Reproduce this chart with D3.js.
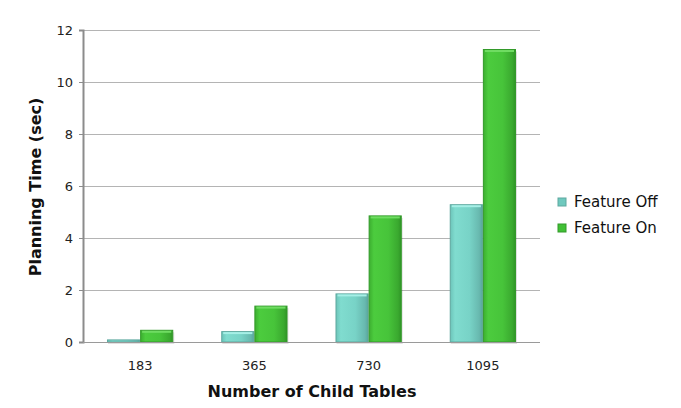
<!DOCTYPE html>
<html><head><meta charset="utf-8">
<script src="https://cdn.jsdelivr.net/npm/d3@7"></script>
<style>body{margin:0;background:#fff;}svg{display:block;font-family:Verdana,"DejaVu Sans",sans-serif;}</style>
</head><body>
<svg id="chart" width="681" height="408"></svg>
<script>
const categories = ["183", "365", "730", "1095"];
const seriesNames = ["Feature Off", "Feature On"];
const featureOff = [0.08, 0.4, 1.85, 5.28];
const featureOn = [0.45, 1.38, 4.85, 11.25];
const yTicks = [0, 2, 4, 6, 8, 10, 12];

const svg = d3.select("#chart");
const m = {left: 83, right: 540, top: 30, bottom: 342};

const x = d3.scaleBand().domain(categories).range([m.left, m.right]).paddingInner(0.42).paddingOuter(0.21);
const xs = d3.scaleBand().domain(seriesNames).range([0, x.bandwidth()]);
const y = d3.scaleLinear().domain([0, 12]).range([m.bottom, m.top]);

const defs = svg.append("defs");
function grad(id, stops) {
  const g = defs.append("linearGradient").attr("id", id).attr("x1", "0").attr("x2", "1").attr("y1", "0").attr("y2", "0");
  stops.forEach(([o, c]) => g.append("stop").attr("offset", o).attr("stop-color", c));
}
grad("gOff", [[0, "#6cc4b9"], [0.15, "#80dccf"], [0.6, "#78d3c7"], [0.9, "#68b9af"], [1, "#5aa69d"]]);
grad("gOn", [[0, "#3cae30"], [0.15, "#4ccc3e"], [0.6, "#47c43a"], [0.9, "#3aa92f"], [1, "#2f9426"]]);
const fills = {"Feature Off": "url(#gOff)", "Feature On": "url(#gOn)"};
const strokes = {"Feature Off": "#5ea89f", "Feature On": "#339a2a"};
const tops = {"Feature Off": "#a6efe6", "Feature On": "#6fdc62"};
const legendFills = {"Feature Off": "#6fc9be", "Feature On": "#41c035"};

// gridlines
svg.append("g").selectAll("line").data(yTicks.filter(d => d > 0)).join("line")
  .attr("x1", m.left).attr("x2", m.right)
  .attr("y1", d => Math.round(y(d)) + 0.5).attr("y2", d => Math.round(y(d)) + 0.5)
  .attr("stroke", "#b4b4b4").attr("stroke-width", 1);

// y axis
const yAxis = svg.append("g").attr("transform", `translate(${m.left},0)`)
  .call(d3.axisLeft(y).tickValues(yTicks).tickSize(4).tickPadding(6).tickFormat(d3.format("d")));
yAxis.select(".domain").attr("stroke", "#8c8c8c").attr("stroke-width", 2);
yAxis.selectAll(".tick line").attr("stroke", "#8c8c8c");
yAxis.selectAll(".tick text").attr("font-size", 13).attr("fill", "#222").attr("font-family", "Verdana,'DejaVu Sans',sans-serif");

// bars
const data = categories.map((c, i) => ({c, vals: [["Feature Off", featureOff[i]], ["Feature On", featureOn[i]]]}));
const groups = svg.append("g").selectAll("g").data(data).join("g")
  .attr("transform", d => `translate(${x(d.c)},0)`);
// shadow
groups.selectAll("rect.sh").data(d => d.vals).join("rect").attr("class", "sh")
  .attr("x", d => xs(d[0]) + 1).attr("width", xs.bandwidth())
  .attr("y", d => y(d[1]) + 2).attr("height", d => y(0) - y(d[1]))
  .attr("fill", "#000").attr("opacity", 0.12);
groups.selectAll("rect.bar").data(d => d.vals).join("rect").attr("class", "bar")
  .attr("x", d => xs(d[0]) + 0.5).attr("width", xs.bandwidth() - 1)
  .attr("y", d => y(d[1])).attr("height", d => y(0) - y(d[1]))
  .attr("fill", d => fills[d[0]]).attr("stroke", d => strokes[d[0]]).attr("stroke-width", 1);
groups.selectAll("line.top").data(d => d.vals.filter(v => y(0) - y(v[1]) > 4)).join("line").attr("class", "top")
  .attr("x1", d => xs(d[0]) + 2).attr("x2", d => xs(d[0]) + xs.bandwidth() - 2)
  .attr("y1", d => y(d[1]) + 1.5).attr("y2", d => y(d[1]) + 1.5)
  .attr("stroke", d => tops[d[0]]).attr("stroke-width", 2);

// baseline
svg.append("line").attr("x1", m.left).attr("x2", m.right)
  .attr("y1", y(0) + 0.5).attr("y2", y(0) + 0.5).attr("stroke", "#9a9a9a").attr("stroke-width", 1);

// x axis
const xAxis = svg.append("g").attr("transform", `translate(0,${m.bottom})`)
  .call(d3.axisBottom(x).tickSize(0).tickPadding(19));
xAxis.select(".domain").remove();
xAxis.selectAll(".tick text").attr("font-size", 13).attr("fill", "#222").attr("font-family", "Verdana,'DejaVu Sans',sans-serif");

// axis titles
svg.append("text").attr("x", 312).attr("y", 397).attr("text-anchor", "middle")
  .attr("font-size", 16).attr("font-weight", "bold").attr("fill", "#111").text("Number of Child Tables");
svg.append("text").attr("transform", `translate(41,187) rotate(-90)`).attr("text-anchor", "middle")
  .attr("font-size", 16).attr("font-weight", "bold").attr("fill", "#111").text("Planning Time (sec)");

// legend
const lg = svg.append("g").selectAll("g").data(seriesNames).join("g")
  .attr("transform", (d, i) => `translate(558,${198 + i * 26})`);
lg.append("rect").attr("width", 8).attr("height", 8).attr("fill", d => legendFills[d]).attr("stroke", d => strokes[d]);
lg.append("text").attr("x", 16).attr("y", 9).attr("font-size", 15).attr("fill", "#111").text(d => d);
</script>
</body></html>
